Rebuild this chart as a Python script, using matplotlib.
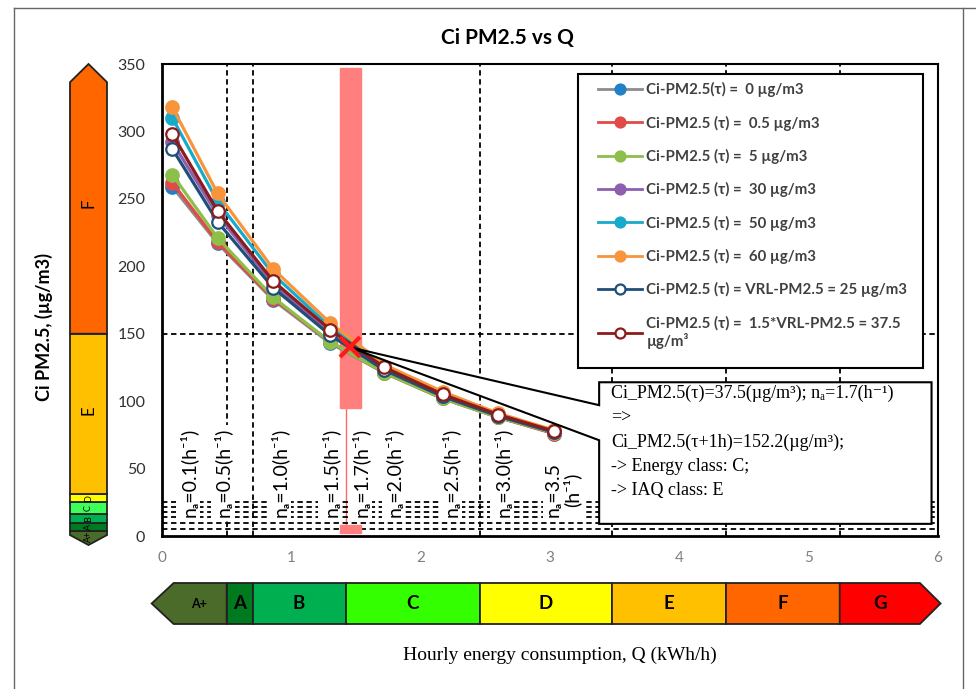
import matplotlib
matplotlib.use("Agg")
import matplotlib.pyplot as plt
from matplotlib.patches import Polygon, Rectangle
from matplotlib.lines import Line2D

plt.rcParams['font.family'] = ['Lato', 'DejaVu Sans']
SERIF = ['Liberation Serif', 'DejaVu Serif']

# hourly energy consumption Q (kWh/h) for each air-change rate n_a
q = [0.08, 0.43, 0.86, 1.30, 1.72, 2.17, 2.60, 3.03]

labels = [
    "Ci-PM2.5(τ) =  0 µg/m3",
    "Ci-PM2.5 (τ) =  0.5 µg/m3",
    "Ci-PM2.5 (τ) =  5 µg/m3",
    "Ci-PM2.5 (τ) =  30 µg/m3",
    "Ci-PM2.5 (τ) =  50 µg/m3",
    "Ci-PM2.5 (τ) =  60 µg/m3",
    "Ci-PM2.5 (τ) = VRL-PM2.5 = 25 µg/m3",
    "Ci-PM2.5 (τ) =  1.5*VRL-PM2.5 = 37.5\nµg/m³",
]
ci_0 = [259, 217, 175, 143, 121, 102, 88, 76]
ci_05 = [262, 218, 176, 144, 121, 102, 88, 76]
ci_5 = [268, 221, 177, 144, 121, 102, 88, 76.5]
ci_30 = [292, 238, 187, 150, 123.5, 104, 89, 77]
ci_50 = [310, 248, 194, 155, 126, 106, 90, 78]
ci_60 = [318, 254, 198, 158, 127, 107, 91, 78.5]
ci_25 = [287, 233, 184, 149, 123, 103.5, 89, 77]
ci_375 = [298, 241, 189, 153, 125, 105, 90, 77.8]
series = [ci_0, ci_05, ci_5, ci_30, ci_50, ci_60, ci_25, ci_375]

line_colors = ['#8c8c8c', '#e04a48', '#8cc04a', '#8e5faf', '#18aacb', '#f7943c', '#1f4e79', '#8b1c1c']
marker_face = ['#2080c8', '#e04a48', '#8cc04a', '#8e5faf', '#18aacb', '#f7943c', 'white', 'white']
marker_edge = ['#2080c8', '#e04a48', '#8cc04a', '#8e5faf', '#18aacb', '#f7943c', '#1f4e79', '#8b1c1c']

# energy class boundaries (kWh/h) and IAQ class boundaries (µg/m3)
energy_classes = ['A+', 'A', 'B', 'C', 'D', 'E', 'F', 'G']
energy_bounds = [-0.08, 0.5, 0.7, 1.42, 2.46, 3.48, 4.36, 5.24, 6.02]
energy_colors = ['#4b6b2a', '#007a1e', '#00b050', '#33ff00', '#ffff00', '#ffc000', '#ff6600', '#ff0000']
iaq_classes = ['A+', 'A', 'B', 'C', 'D', 'E', 'F']
iaq_bounds = [-6.7, 3.7, 9.6, 16, 25, 31, 150, 350]
iaq_colors = ['#4b6b2a', '#007a1e', '#00b050', '#3cff5a', '#ffff00', '#ffc000', '#ff6600']
iaq_lines = [5, 9.5, 14.3, 18, 21.7, 25.4]

na_text = ['0.1', '0.5', '1.0', '1.5', '1.7', '2.0', '2.5', '3.0', '3.5']
na_pos = [0.20, 0.47, 0.91, 1.30, 1.53, 1.79, 2.23, 2.63, 3.10]

W, H = 976, 689
fig = plt.figure(figsize=(W / 100, H / 100), dpi=100)
ax = fig.add_axes([162 / W, (H - 536) / H, 776 / W, 472 / H])

# dashed reference lines
dash = dict(color='black', lw=1.3, ls=(0, (3, 2)), zorder=1)
for xb in energy_bounds[1:-1]:
    if xb == 1.42:
        ax.plot([xb, xb], [95, 350], **dash)
        ax.plot([xb, xb], [2.5, 95], color='#ff6666', lw=1, zorder=1)
    else:
        ax.plot([xb, xb], [0, 350], **dash)
ax.plot([0, 6], [150, 150], **dash)
for yb in iaq_lines:
    ax.plot([0, 6], [yb, yb], **dash)

# highlighted band at n_a = 1.7
ax.add_patch(Rectangle((1.38, 95), 0.16, 252, color='#ff7f7f', zorder=2))
ax.add_patch(Rectangle((1.38, 2.5), 0.16, 5.5, color='#ff7f7f', zorder=2))

handles = []
for ys, lab, lc, mf, me in zip(series, labels, line_colors, marker_face, marker_edge):
    h, = ax.plot(q, ys, '-o', color=lc, lw=2.3, ms=9, mfc=mf, mec=me, mew=1.6,
                 label=lab, zorder=3)
    handles.append(h)

ax.plot(1.45, 140, marker='x', ms=15, mew=3, color='#ff1a1a', zorder=7)

# n_a labels
for t, xp in zip(na_text, na_pos):
    s = f"nₐ={t}(h⁻¹)" if t != '3.5' else "nₐ=3.5\n(h⁻¹)"
    ax.text(xp, 14, s, rotation=90, ha='center', va='bottom', fontsize=14,
            linespacing=1.0,
            bbox=dict(boxstyle='square,pad=0.12', fc='white', ec='none'), zorder=4)

# legend frame + legend
ax.add_patch(Rectangle((0.536, 0.356), 0.445, 0.623, transform=ax.transAxes,
                       fc='white', ec='black', lw=1.5, zorder=5))
leg = ax.legend(handles=handles, loc='upper left', bbox_to_anchor=(0.545, 0.99),
                frameon=False, labelspacing=1.22, handlelength=2.9, handletextpad=0.3,
                markerscale=0.8, prop=dict(size=10.8, weight='bold'))
for txt in leg.get_texts():
    txt.set_color('#404040')
for ln in leg.get_lines():
    ln.set_linewidth(2)
leg.set_zorder(6)

# callout
callout = [(3.38, 114), (5.95, 114), (5.95, 9), (3.38, 9), (3.38, 71), (1.45, 140), (3.38, 97)]
ax.add_patch(Polygon(callout, closed=True, fc='white', ec='black', lw=1.5, zorder=5))
ax.text(3.47, 112,
        "Ci_PM2.5(τ)=37.5(µg/m³); nₐ=1.7(h⁻¹)\n=>\nCi_PM2.5(τ+1h)=152.2(µg/m³);\n"
        "-> Energy class: C;\n-> IAQ class: E",
        family=SERIF, fontsize=13, va='top', ha='left', linespacing=1.55, zorder=6)

ax.set_xlim(0, 6)
ax.set_ylim(0, 350)
ax.set_xticks(range(7))
ax.set_yticks(range(0, 351, 50))
ax.tick_params(axis='x', length=0, pad=11, labelsize=11, labelcolor='#808080')
ax.tick_params(axis='y', length=0, pad=12, labelsize=11.5, labelcolor='#303030')
for side in ['top', 'right']:
    ax.spines[side].set_linewidth(1.5)
for side in ['bottom', 'left']:
    ax.spines[side].set_linewidth(2)

# energy class bar
ax_e = fig.add_axes([162 / W, (H - 624) / H, 776 / W, 41 / H])
ax_e.set_xlim(0, 6)
ax_e.set_ylim(0, 1)
ax_e.axis('off')
for i, (cls, col) in enumerate(zip(energy_classes, energy_colors)):
    x0, x1 = energy_bounds[i], energy_bounds[i + 1]
    if cls == 'A+':
        pts = [(x0, 0.5), (0.09, 1), (x1, 1), (x1, 0), (0.09, 0)]
        xc = 0.29
    elif cls == 'G':
        pts = [(x0, 0), (x0, 1), (5.86, 1), (x1, 0.5), (5.86, 0)]
        xc = 5.55
    else:
        pts = [(x0, 0), (x0, 1), (x1, 1), (x1, 0)]
        xc = (x0 + x1) / 2
    ax_e.add_patch(Polygon(pts, closed=True, fc=col, ec='#222222', lw=1.3, clip_on=False))
    ax_e.text(xc, 0.5, cls, ha='center', va='center', fontweight='bold',
              fontsize=9 if cls == 'A+' else 13.5)

# IAQ class bar
ax_i = fig.add_axes([70 / W, (H - 536) / H, 37 / W, 472 / H])
ax_i.set_xlim(0, 1)
ax_i.set_ylim(0, 350)
ax_i.axis('off')
for i, (cls, col) in enumerate(zip(iaq_classes, iaq_colors)):
    y0, y1 = iaq_bounds[i], iaq_bounds[i + 1]
    if cls == 'A+':
        pts = [(0, y1), (1, y1), (1, 0.7), (0.5, y0), (0, 0.7)]
        yc = 0
    elif cls == 'F':
        pts = [(0, y0), (1, y0), (1, 336.5), (0.5, y1), (0, 336.5)]
        yc = 247
    else:
        pts = [(0, y0), (1, y0), (1, y1), (0, y1)]
        yc = (y0 + y1) / 2
    ax_i.add_patch(Polygon(pts, closed=True, fc=col, ec='#222222', lw=1.3, clip_on=False))
    big = cls in ('E', 'F')
    ax_i.text(0.5, 93 if cls == 'E' else yc, cls, rotation=90, ha='center', va='center',
              fontsize=12 if big else 6.5)

fig.text(507 / W, 1 - 38 / H, "Ci PM2.5 vs Q", ha='center', va='center',
         fontsize=15, fontweight='bold')
fig.text(44 / W, 1 - 327 / H, "Ci PM2.5, (µg/m3)", rotation=90, ha='center',
         va='center', fontsize=13, fontweight='bold')
fig.text(560 / W, 1 - 655 / H, "Hourly energy consumption, Q (kWh/h)", ha='center',
         va='center', family=SERIF, fontsize=14)

# outer frame
fig.add_artist(Line2D([14 / W, 14 / W], [0, 1 - 8 / H], color='#666666', lw=1))
fig.add_artist(Line2D([14 / W, 1], [1 - 8 / H, 1 - 8 / H], color='#666666', lw=1))
fig.add_artist(Line2D([963 / W, 963 / W], [0, 1 - 8 / H], color='#666666', lw=1))

fig.savefig("out.png", dpi=100)
